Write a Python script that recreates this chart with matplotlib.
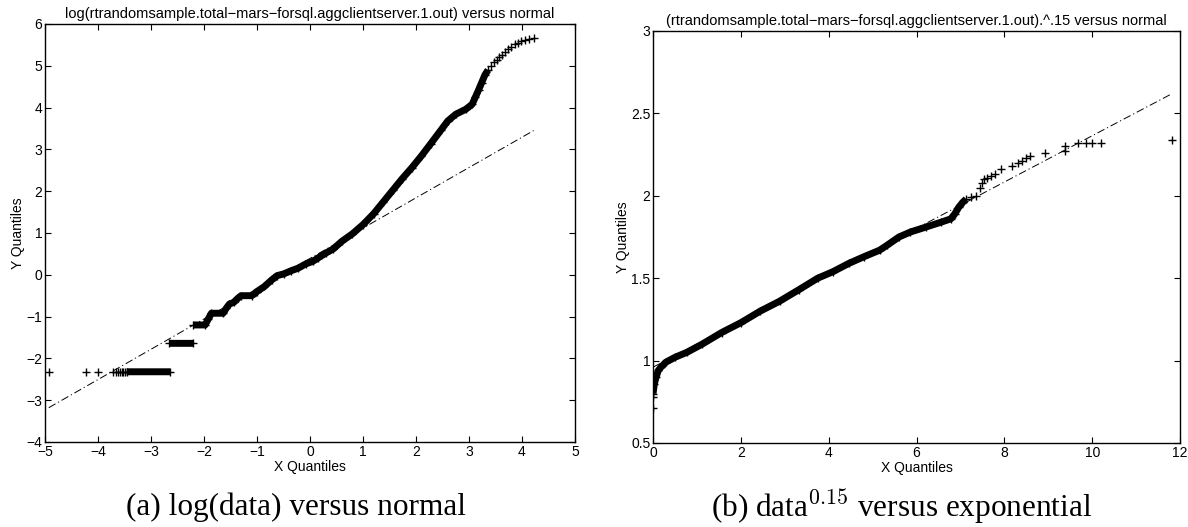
import numpy as np
import matplotlib.pyplot as plt

plt.rcParams['font.family'] = ['Liberation Sans', 'DejaVu Sans']
plt.rcParams['mathtext.fontset'] = 'cm'

# --- log(data) vs normal: dense part of the quantile curve (nan = gap between levels)
qq1_x = [-3.46, -2.64, np.nan, -2.66, -2.20, np.nan,
         -2.20, -1.98, -1.92, -1.86, -1.64, -1.58, -1.52, -1.44, -1.36, -1.30,
         -1.10, -1.00, -0.86, -0.72, -0.62, -0.50, -0.35, -0.22, -0.08, 0.05,
         0.15, 0.30, 0.44, 0.60, 0.80, 1.00, 1.20, 1.38, 1.56, 1.74, 1.92,
         2.10, 2.28, 2.47, 2.60, 2.75, 2.94, 3.06, 3.12, 3.18, 3.24, 3.30, 3.36]
qq1_y = [-2.32, -2.32, np.nan, -1.64, -1.64, np.nan,
         -1.20, -1.20, -1.06, -0.92, -0.92, -0.80, -0.70, -0.66, -0.56, -0.50,
         -0.50, -0.40, -0.28, -0.12, -0.02, 0.02, 0.10, 0.16, 0.26, 0.32,
         0.40, 0.52, 0.62, 0.80, 0.98, 1.20, 1.46, 1.74, 2.02, 2.30, 2.56,
         2.84, 3.14, 3.46, 3.68, 3.84, 3.96, 4.08, 4.25, 4.42, 4.60, 4.78, 4.90]
# isolated points in both tails
tail1_x = [-4.93, -4.22, -4.00, -3.72, -3.66, -3.62, -3.58, -3.55, -3.52, -3.49,
           3.42, 3.47, 3.52, 3.57, 3.62, 3.68, 3.74, 3.80, 3.86, 3.92,
           3.98, 4.06, 4.14, 4.22]
tail1_y = [-2.32, -2.32, -2.32, -2.32, -2.32, -2.32, -2.32, -2.32, -2.32, -2.32,
           5.00, 5.08, 5.14, 5.20, 5.26, 5.32, 5.40, 5.46, 5.51, 5.55,
           5.59, 5.62, 5.65, 5.67]
ref1_x = [-4.93, 4.22]
ref1_y = [-3.18, 3.45]

# --- data^0.15 vs exponential
qq2_x = [0.00, 0.03, 0.07, 0.12, 0.18, 0.29, 0.50, 0.77, 1.12, 1.56, 2.00,
         2.44, 2.88, 3.32, 3.75, 4.10, 4.46, 4.80, 5.16, 5.33, 5.60, 5.86,
         6.21, 6.56, 6.78, 6.87, 6.96, 7.05, 7.13]
qq2_y = [0.80, 0.86, 0.90, 0.94, 0.96, 0.99, 1.02, 1.05, 1.10, 1.17, 1.23,
         1.30, 1.36, 1.43, 1.50, 1.54, 1.59, 1.63, 1.67, 1.70, 1.75, 1.78,
         1.81, 1.84, 1.86, 1.89, 1.93, 1.96, 1.98]
tail2_x = [0.00, 0.00, 7.25, 7.35, 7.44, 7.50, 7.53, 7.60, 7.70, 7.79, 7.92,
           8.18, 8.30, 8.40, 8.50, 8.58, 8.93, 9.37, 9.37, 9.68, 9.85, 10.00,
           10.20, 11.82]
tail2_y = [0.71, 0.78, 1.99, 2.00, 2.05, 2.08, 2.10, 2.11, 2.12, 2.13, 2.16,
           2.18, 2.20, 2.21, 2.23, 2.24, 2.26, 2.27, 2.30, 2.32, 2.32, 2.32,
           2.32, 2.34]
ref2_x = [0.0, 11.82]
ref2_y = [0.96, 2.62]

fig = plt.figure(figsize=(11.88, 5.27), dpi=100)
ax1 = fig.add_axes([0.0379, 0.1613, 0.4461, 0.7932])
ax2 = fig.add_axes([0.5497, 0.1594, 0.4436, 0.7818])

dashdot = (0, (8, 3, 1.2, 3))


def qqpanel(ax, x, y, tx, ty, rx, ry):
    ax.plot(rx, ry, color='k', lw=0.7, ls=dashdot, zorder=2)
    ax.plot(x, y, color='k', lw=5.0, solid_joinstyle='round',
            solid_capstyle='butt', zorder=3)
    ax.plot(x, y, ls='none', marker='+', ms=6, mew=1.0, color='k', zorder=3)
    ax.plot(tx, ty, ls='none', marker='+', ms=6, mew=1.0, color='k', zorder=3)
    ax.tick_params(direction='in', top=True, right=True, length=4,
                   width=0.8, labelsize=10, pad=2)
    for s in ax.spines.values():
        s.set_linewidth(1.0)
    ax.set_xlabel('X Quantiles', fontsize=10, labelpad=1)
    ax.set_ylabel('Y Quantiles', fontsize=10, labelpad=1)


qqpanel(ax1, qq1_x, qq1_y, tail1_x, tail1_y, ref1_x, ref1_y)
ax1.set_xlim(-5, 5)
ax1.set_ylim(-4, 6)
ax1.set_xticks(range(-5, 6))
ax1.set_yticks(range(-4, 7))
ax1.set_title('log(rtrandomsample.total\u2212mars\u2212forsql.aggclientserver.1.out) versus normal',
              fontsize=10.5, pad=4)

qqpanel(ax2, qq2_x, qq2_y, tail2_x, tail2_y, ref2_x, ref2_y)
ax2.set_xlim(0, 12)
ax2.set_ylim(0.5, 3)
ax2.set_xticks(range(0, 13, 2))
yt = [0.5, 1, 1.5, 2, 2.5, 3]
ax2.set_yticks(yt)
ax2.set_yticklabels(['%g' % v for v in yt])
ax2.set_title('(rtrandomsample.total\u2212mars\u2212forsql.aggclientserver.1.out).^.15 versus normal',
              fontsize=10.5, pad=4)

fig.text(0.249, 0.038, '(a) log(data) versus normal', family='Liberation Serif',
         fontsize=22.5, ha='center', va='center')
fig.text(0.759, 0.038, '(b) data$^{0.15}$ versus exponential', family='Liberation Serif',
         fontsize=22.5, ha='center', va='center')

fig.savefig('out.png', dpi=100)
